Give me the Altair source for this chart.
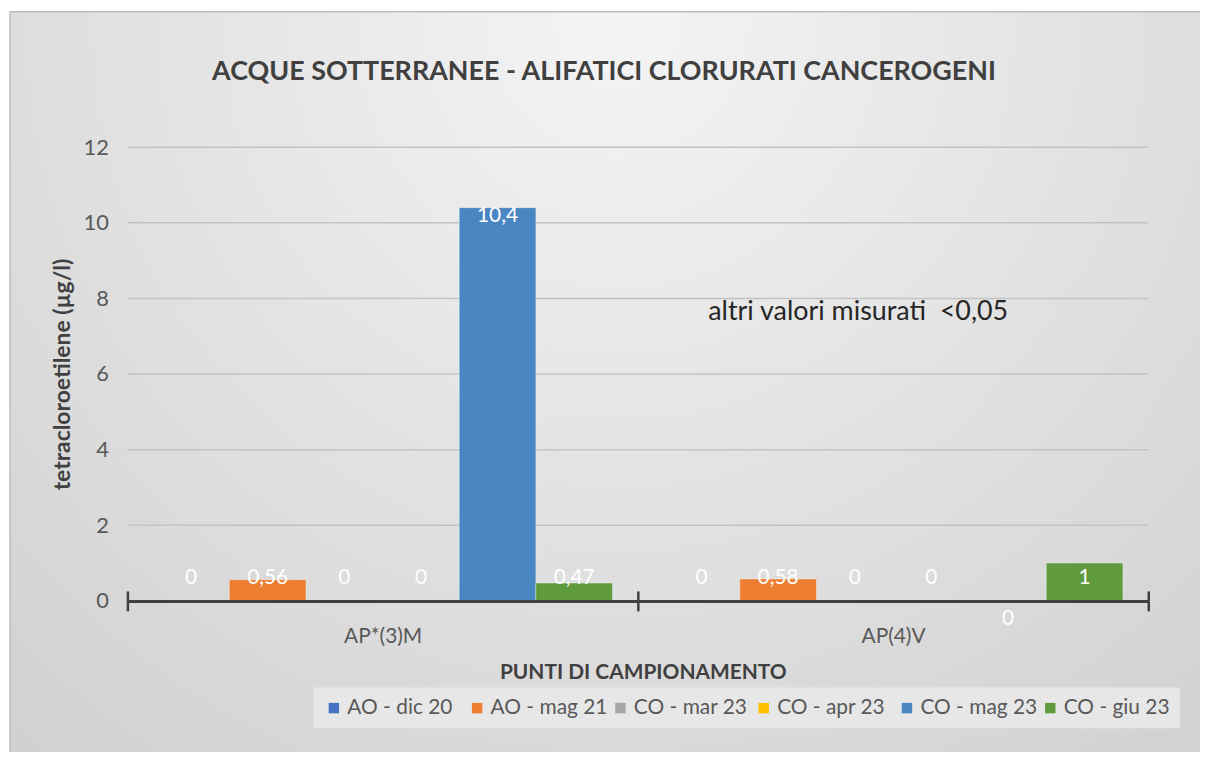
import altair as alt
import pandas as pd

# ---------------- data ----------------
chart_title = ["ACQUE SOTTERRANEE - ALIFATICI CLORURATI CANCEROGENI"]
points = ["AP*(3)M", "AP(4)V"]
series = ["AO - dic 20", "AO - mag 21", "CO - mar 23", "CO - apr 23", "CO - mag 23", "CO - giu 23"]
colors = ["#4472C4", "#ED7D31", "#A5A5A5", "#FFC000", "#4A87C2", "#5F9B3E"]
values_ap3m = [0, 0.56, 0, 0, 10.4, 0.47]
values_ap4v = [0, 0.58, 0, 0, 0, 1]
y_ticks = [0, 2, 4, 6, 8, 10, 12]
note_text = ["altri valori misurati \u00a0<0,05"]
note_point = ["AP(4)V"]
note_value = [7.63]
y_title = "tetracloroetilene (µg/l)"
x_title = "PUNTI DI CAMPIONAMENTO"

rows = []
for p, vals in zip(points, [values_ap3m, values_ap4v]):
    for s, v in zip(series, vals):
        rows.append({"punto": p, "serie": s, "valore": v,
                     "etichetta": f"{v:g}".replace(".", ",")})
df = pd.DataFrame(rows)
grid_df = pd.DataFrame({"v": y_ticks[1:]})
note_df = pd.DataFrame({"punto": note_point, "valore": note_value, "testo": note_text})
title_df = pd.DataFrame({"testo": chart_title})
bg_df = pd.DataFrame({"a": [0]})

FONT = "Lato"
W, H = 1026, 456
x_scale = alt.Scale(domain=points, paddingInner=0, paddingOuter=0)
xo_scale = alt.Scale(domain=series, paddingInner=0, paddingOuter=0.331)
y_scale = alt.Scale(domain=[0, 12], nice=False)

# background panel with soft radial gradient
bg = alt.Chart(bg_df).mark_rect(
    fill=alt.Gradient(
        gradient="radial",
        stops=[alt.GradientStop(offset=0, color="#f4f4f4"),
               alt.GradientStop(offset=1, color="#cdcdcd")],
        x1=0.5, y1=0.2, r1=0, x2=0.5, y2=0.2, r2=0.85,
    ),
    stroke="#bdbdbd", strokeWidth=1.5,
).encode(
    x=alt.value(-118), x2=alt.value(W + 80), y=alt.value(-136), y2=alt.value(H + 170)
)

grid = alt.Chart(grid_df).mark_rule(color="#c3c3c3", strokeWidth=1.5).encode(
    y=alt.Y("v:Q", scale=y_scale, axis=None)
)

bars = alt.Chart(df).mark_bar(stroke="#ffffff", strokeOpacity=0.35, strokeWidth=1).encode(
    x=alt.X("punto:N", sort=points, scale=x_scale,
            axis=alt.Axis(title=x_title, labelAngle=0, labelFont=FONT, labelFontSize=21,
                          labelColor="#595959", labelPadding=15,
                          domainColor="#404040", domainWidth=3,
                          tickColor="#404040", tickWidth=2.5, tickSize=10, tickBand="extent",
                          titleFont=FONT, titleFontSize=21, titleFontWeight="bold",
                          titleColor="#404040", titleX=518, titleY=72,
                          titleBaseline="middle", titleAlign="center", zindex=1)),
    xOffset=alt.XOffset("serie:N", sort=series, scale=xo_scale),
    y=alt.Y("valore:Q", scale=y_scale,
            axis=alt.Axis(values=y_ticks, grid=False, domain=False, ticks=False,
                          labelFont=FONT, labelFontSize=22, labelColor="#595959",
                          labelPadding=19, title=y_title, titleFont=FONT,
                          titleFontSize=23, titleFontWeight="bold", titleColor="#404040",
                          titleAngle=-90, titleX=-65, titleY=H / 2,
                          titleAlign="center", titleBaseline="middle", zindex=1)),
    color=alt.Color("serie:N", sort=series, scale=alt.Scale(domain=series, range=colors),
                    legend=alt.Legend(title=None, orient="none", legendX=187, legendY=543,
                                      direction="horizontal", fillColor="#e7e7e7",
                                      padding=10, symbolType="square", symbolSize=110,
                                      symbolStrokeWidth=0, labelFont=FONT, labelFontSize=21,
                                      labelColor="#595959", columnPadding=2,
                                      gridAlign="all", labelOffset=3)),
)

labels = alt.Chart(df).transform_calculate(
    pos="datum.valore > 2 ? datum.valore - 0.22 : "
        "((datum.serie == 'CO - mag 23' && datum.valore == 0) ? -0.47 : 0.6)"
).mark_text(font=FONT, fontSize=21, color="#ffffff", baseline="middle", align="center").encode(
    x=alt.X("punto:N", sort=points, scale=x_scale,
            axis=alt.Axis(orient="top", offset=-H, labels=False, domain=False, title=None,
                          tickColor="#404040", tickWidth=2.5, tickSize=10,
                          tickBand="extent", zindex=1)),
    xOffset=alt.XOffset("serie:N", sort=series, scale=xo_scale),
    y=alt.Y("pos:Q", scale=y_scale, axis=None),
    text="etichetta:N",
)

note = alt.Chart(note_df).mark_text(font=FONT, fontSize=27, color="#262626",
                                    align="center", baseline="middle", dx=-35).encode(
    x=alt.X("punto:N", sort=points, scale=x_scale, axis=None),
    y=alt.Y("valore:Q", scale=y_scale, axis=None),
    text="testo:N",
)

title = alt.Chart(title_df).mark_text(font=FONT, fontSize=27, fontWeight="bold",
                                      color="#404040", align="center",
                                      baseline="alphabetic").encode(
    x=alt.value(479), y=alt.value(-68), text="testo:N"
)

chart = alt.layer(bg, grid, bars, labels, note, title).resolve_axis(
    x="independent", y="independent"
).properties(
    width=W, height=H,
    autosize=alt.AutoSizeParams(type="none"),
    padding={"left": 120, "top": 138, "right": 52, "bottom": 150},
).configure(background="#ffffff").configure_view(stroke=None)

chart.save("out.html", embed_options={"renderer": "svg", "actions": False})
